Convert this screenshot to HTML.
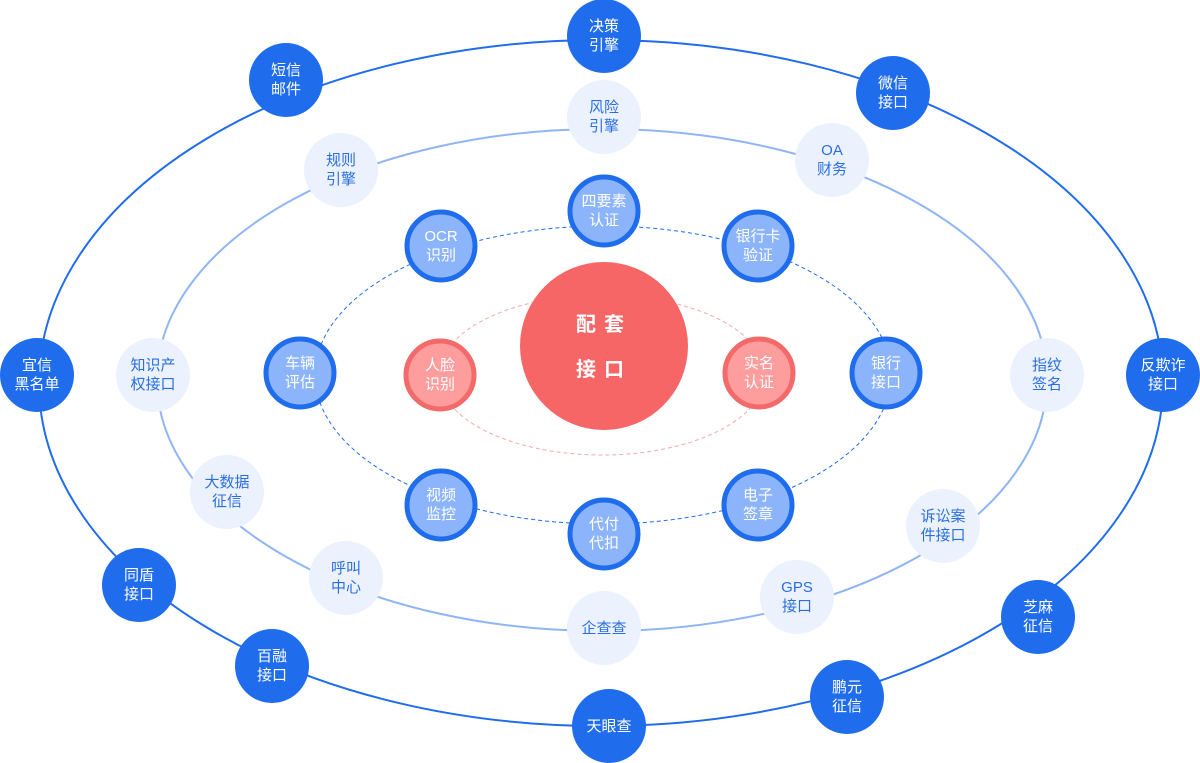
<!DOCTYPE html>
<html><head><meta charset="utf-8"><style>
html,body{margin:0;padding:0;background:#fff;}
svg{display:block;}
text{font-family:"Liberation Sans","Noto Sans CJK SC",sans-serif;font-size:15px;text-anchor:middle;}
.o text{fill:#fff;}
.m text{fill:#2b6ee2;}
.t text{fill:#fff;}
.r text{fill:#fff;}
</style></head><body>
<svg width="1200" height="763" viewBox="0 0 1200 763">
<ellipse cx="601" cy="383" rx="562" ry="343" fill="none" stroke="#1f6ced" stroke-width="2"/>
<ellipse cx="602" cy="380" rx="445" ry="251" fill="none" stroke="#8fb5f6" stroke-width="2"/>
<ellipse cx="603" cy="375" rx="288" ry="149" fill="none" stroke="#1f6ced" stroke-width="1" stroke-dasharray="4,3"/>
<ellipse cx="602" cy="375" rx="163" ry="80" fill="none" stroke="#f7a9a9" stroke-width="1" stroke-dasharray="4,3"/>
<circle cx="604" cy="346" r="84" fill="#f66666"/>
<text x="604" y="331" style="fill:#fff;font-weight:bold;font-size:20px;letter-spacing:8px">配套</text>
<text x="604" y="376" style="fill:#fff;font-weight:bold;font-size:20px;letter-spacing:8px">接口</text>
<g class="o" fill="#1f6ced">
<circle cx="604" cy="36" r="37"/><text x="604" y="31">决策</text><text x="604" y="50">引擎</text>
<circle cx="286" cy="80" r="37"/><text x="286" y="75">短信</text><text x="286" y="94">邮件</text>
<circle cx="893" cy="93" r="37"/><text x="893" y="88">微信</text><text x="893" y="107">接口</text>
<circle cx="37" cy="375" r="37"/><text x="37" y="370">宜信</text><text x="37" y="389">黑名单</text>
<circle cx="1163" cy="375" r="37"/><text x="1163" y="370">反欺诈</text><text x="1163" y="389">接口</text>
<circle cx="139" cy="585" r="37"/><text x="139" y="580">同盾</text><text x="139" y="599">接口</text>
<circle cx="272" cy="666" r="37"/><text x="272" y="661">百融</text><text x="272" y="680">接口</text>
<circle cx="609" cy="726" r="37"/><text x="609" y="731">天眼查</text>
<circle cx="847" cy="697" r="37"/><text x="847" y="692">鹏元</text><text x="847" y="711">征信</text>
<circle cx="1038" cy="617" r="37"/><text x="1038" y="612">芝麻</text><text x="1038" y="631">征信</text>
</g>
<g class="m" fill="#ebf2fd">
<circle cx="604" cy="117" r="37"/><text x="604" y="112">风险</text><text x="604" y="131">引擎</text>
<circle cx="341" cy="170" r="37"/><text x="341" y="165">规则</text><text x="341" y="184">引擎</text>
<circle cx="832" cy="160" r="37"/><text x="832" y="155">OA</text><text x="832" y="174">财务</text>
<circle cx="153" cy="375" r="37"/><text x="153" y="370">知识产</text><text x="153" y="389">权接口</text>
<circle cx="1047" cy="375" r="37"/><text x="1047" y="370">指纹</text><text x="1047" y="389">签名</text>
<circle cx="227" cy="492" r="37"/><text x="227" y="487">大数据</text><text x="227" y="506">征信</text>
<circle cx="943" cy="526" r="37"/><text x="943" y="521">诉讼案</text><text x="943" y="540">件接口</text>
<circle cx="346" cy="578" r="37"/><text x="346" y="573">呼叫</text><text x="346" y="592">中心</text>
<circle cx="797" cy="597" r="37"/><text x="797" y="592">GPS</text><text x="797" y="611">接口</text>
<circle cx="604" cy="628" r="37"/><text x="604" y="633">企查查</text>
</g>
<g class="t" fill="#8cb4fb" stroke="#1f6ced" stroke-width="5">
<circle cx="604" cy="211" r="34"/><circle cx="441" cy="246" r="34"/><circle cx="758" cy="246" r="34"/>
<circle cx="300" cy="373" r="34"/><circle cx="886" cy="373" r="34"/><circle cx="441" cy="505" r="34"/>
<circle cx="758" cy="505" r="34"/><circle cx="604" cy="534" r="34"/>
</g>
<g class="t">
<text x="604" y="206">四要素</text><text x="604" y="225">认证</text>
<text x="441" y="241">OCR</text><text x="441" y="260">识别</text>
<text x="758" y="241">银行卡</text><text x="758" y="260">验证</text>
<text x="300" y="368">车辆</text><text x="300" y="387">评估</text>
<text x="886" y="368">银行</text><text x="886" y="387">接口</text>
<text x="441" y="500">视频</text><text x="441" y="519">监控</text>
<text x="758" y="500">电子</text><text x="758" y="519">签章</text>
<text x="604" y="529">代付</text><text x="604" y="548">代扣</text>
</g>
<g class="r" fill="#fd9d9d" stroke="#f36a6a" stroke-width="5">
<circle cx="440" cy="375" r="34"/><circle cx="759" cy="373" r="34"/>
</g>
<g class="r">
<text x="440" y="370">人脸</text><text x="440" y="389">识别</text>
<text x="759" y="368">实名</text><text x="759" y="387">认证</text>
</g>
</svg>
</body></html>
